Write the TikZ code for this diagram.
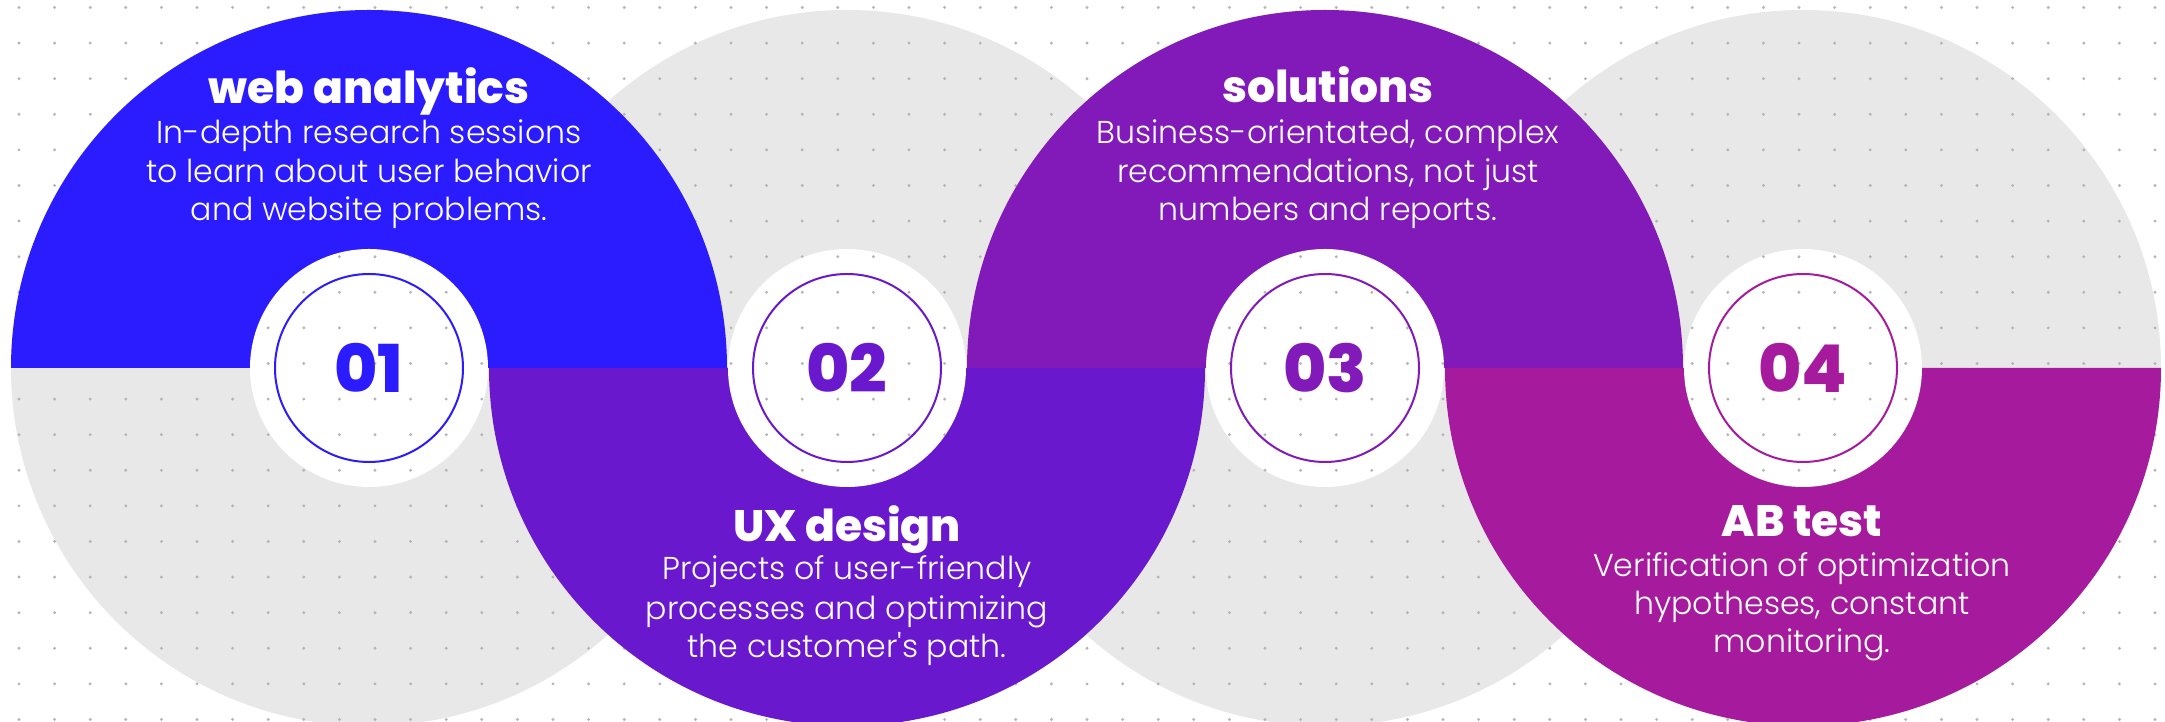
\documentclass[tikz,border=0pt]{standalone}
\usepackage{fontspec}
\IfFontExistsTF{Poppins ExtraBold}{\newfontfamily\titlefont{Poppins ExtraBold}}{\newfontfamily\titlefont{Poppins}[UprightFont=*-Bold]}
\IfFontExistsTF{Poppins Light}{\newfontfamily\bodyfont{Poppins Light}}{\newfontfamily\bodyfont{Poppins}}
\definecolor{cA}{HTML}{2B1BFF}
\definecolor{cB}{HTML}{6A18CE}
\definecolor{cC}{HTML}{8219B9}
\definecolor{cD}{HTML}{A61B9E}
\definecolor{grayc}{HTML}{E8E8E8}
\definecolor{dotc}{HTML}{B4B4B4}
\newcommand\mydotgrid{\foreach \i in {0,...,60}{\foreach \j in {0,...,20}{\fill[dotc] (19+35.6*\i,714.5-35.6*\j) circle[radius=1.6];}}}
\tikzset{
  ttl/.style={text=white,font=\titlefont\fontsize{22}{26}\selectfont,anchor=base,inner sep=0pt},
  bdy/.style={text=white,font=\bodyfont\fontsize{15.8}{19}\selectfont,anchor=base,inner sep=0pt},
  num/.style={font=\titlefont\fontsize{33}{36}\selectfont,anchor=center,inner sep=0pt},
  disc/.style={fill=white},
  ring/.style={line width=1pt}
}
\begin{document}
\begin{tikzpicture}[x=0.5pt,y=0.5pt]
\useasboundingbox (0,0) rectangle (2165,722);
\clip (0,0) rectangle (2165,722);
\fill[white] (0,0) rectangle (2165,722);
% gray circles
\foreach \cx in {369,847,1325,1803}{\fill[grayc] (\cx,354) circle[radius=358];}
% background dots
\mydotgrid
% coloured halves
\fill[cA] (11,354) arc[start angle=180,end angle=0,radius=358] -- cycle;
\fill[cB] (489,354) arc[start angle=180,end angle=360,radius=358] -- cycle;
\fill[cC] (967,354) arc[start angle=180,end angle=0,radius=358] -- cycle;
\fill[cD] (1445,354) arc[start angle=180,end angle=360,radius=358] -- cycle;
% white discs with dots
\foreach \cx in {369,847,1325,1803}{
  \fill[disc] (\cx,354) circle[radius=119];
  \begin{scope}
    \clip (\cx,354) circle[radius=119];
    \mydotgrid
  \end{scope}
}
% rings
\draw[ring,cA] (369,354) circle[radius=94];
\draw[ring,cB] (847,354) circle[radius=94];
\draw[ring,cC] (1325,354) circle[radius=94];
\draw[ring,cD] (1803,354) circle[radius=94];
% numbers
\node[num,text=cA] (n1) at (369,354) {01};
\node[num,text=cB] (n2) at (847,354) {02};
\node[num,text=cC] (n3) at (1325,354) {03};
\node[num,text=cD] (n4) at (1803,354) {04};
% texts circle 1
\node[ttl] (t1) at (369,618) {web analytics};
\node[bdy] (b1a) at (369,578) {In-depth research sessions};
\node[bdy] (b1b) at (369,539) {to learn about user behavior};
\node[bdy] (b1c) at (369,501) {and website problems.};
% texts circle 3
\node[ttl] (t3) at (1328,619) {solutions};
\node[bdy] (b3a) at (1328,578) {Business-orientated, complex};
\node[bdy] (b3b) at (1328,539) {recommendations, not just};
\node[bdy] (b3c) at (1328,501) {numbers and reports.};
% texts circle 2
\node[ttl] (t2) at (847,180) {UX design};
\node[bdy] (b2a) at (847,142) {Projects of user-friendly};
\node[bdy] (b2b) at (847,102) {processes and optimizing};
\node[bdy] (b2c) at (847,64) {the customer's path.};
% texts circle 4
\node[ttl] (t4) at (1802,185) {AB test};
\node[bdy] (b4a) at (1802,145) {Verification of optimization};
\node[bdy] (b4b) at (1802,107) {hypotheses, constant};
\node[bdy] (b4c) at (1802,69) {monitoring.};
\end{tikzpicture}
\end{document}
